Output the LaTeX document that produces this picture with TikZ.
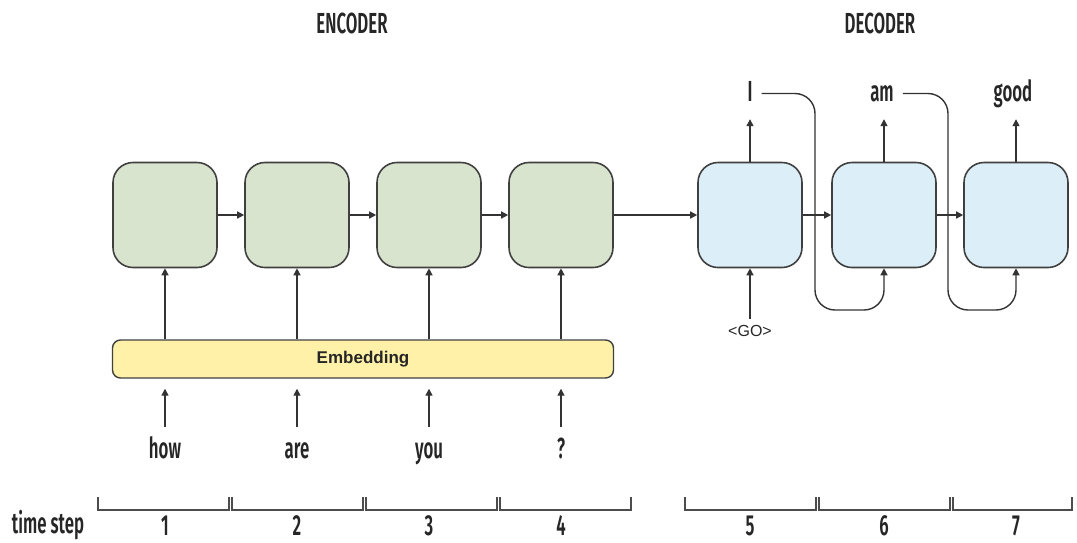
\documentclass[tikz,border=0pt]{standalone}
\usepackage{fontspec}
\setmainfont{Liberation Sans}
\newfontfamily\narrowfont[FakeStretch=0.58]{Fira Sans SemiBold}
\usetikzlibrary{arrows.meta}

\definecolor{encgreen}{HTML}{D9E4CE}
\definecolor{decblue}{HTML}{DCEEF7}
\definecolor{embyellow}{HTML}{FFF2A8}
\definecolor{edge}{HTML}{404040}

\tikzset{
  cell/.style={draw=edge, line width=1.6pt, rounded corners=20pt,
    minimum width=104pt, minimum height=105pt},
  enccell/.style={cell, fill=encgreen},
  deccell/.style={cell, fill=decblue},
  word/.style={font=\narrowfont\fontsize{29}{29}\selectfont, text=black!85,
    inner sep=0pt, text height=21pt, text depth=6pt},
  link/.style={-{Triangle[length=7pt,width=7pt]}, line width=1.4pt, draw=black!80},
  bracket/.style={line width=1.4pt, draw=black!70},
}

\begin{document}
\begin{tikzpicture}[x=1pt,y=-1pt]
  \useasboundingbox (0,0) rectangle (1077,542);
  % headings
  \node[word] (enc) at (352,26) {ENCODER};
  \node[word] (dec) at (880,26) {DECODER};
  % cells
  \foreach \i/\x in {1/165,2/297,3/429,4/561}
    \node[enccell] (e\i) at (\x,215) {};
  \foreach \i/\x in {1/750,2/884,3/1016}
    \node[deccell] (d\i) at (\x,215) {};
  \node[draw=edge, line width=1.4pt, fill=embyellow, rounded corners=8pt,
    minimum width=501pt, minimum height=38pt,
    font=\bfseries\fontsize{17}{17}\selectfont, text=black!85] (emb) at (363,359) {Embedding};
  % input words
  \foreach \i/\x/\w in {1/165/how,2/297/are,3/429/you,4/561/?}{
    \node[word, anchor=base] (w\i) at (\x,458) {\w};
    \draw[link, shorten <=10pt, shorten >=10pt] (w\i.north) -- (w\i.north |- emb.south);
    \draw[link] (emb.north -| e\i) -- (e\i.south);
  }
  % recurrent links
  \draw[link] (e1) -- (e2);
  \draw[link] (e2) -- (e3);
  \draw[link] (e3) -- (e4);
  \draw[link] (e4) -- (d1);
  \draw[link] (d1) -- (d2);
  \draw[link] (d2) -- (d3);
  % outputs
  \node[word, anchor=base] (o1) at (750,101) {I};
  \node[word, anchor=base] (o2) at (882,101) {am};
  \node[word, anchor=base] (o3) at (1013,101) {good};
  \foreach \i in {1,2,3}
    \draw[link, shorten >=12pt] (d\i.north) -- (d\i.north |- o\i.south);
  % fed back
  \coordinate (turn1) at (815,310);
  \coordinate (turn2) at (948,310);
  \draw[link, rounded corners=20pt] ([xshift=9pt]o1.east) -| (turn1) -- (turn1 -| d2) -- (d2.south);
  \draw[link, rounded corners=20pt] ([xshift=9pt]o2.east) -| (turn2) -- (turn2 -| d3) -- (d3.south);
  \node[font=\fontsize{16}{16}\selectfont, text=black!85] (go) at (750,331) {<GO>};
  \draw[link, shorten <=3pt] (go.north) -- (d1.south);
  % time steps
  \foreach \a/\b in {98/229,232/363,366/497,500/631,685/816,819/950,953/1072}
    \draw[bracket] (\a,497) -- (\a,510) -- (\b,510) -- (\b,497);
  \node[word, anchor=base, text depth=0pt] (ts) at (48,533) {time step};
  \foreach \n/\x in {1/165,2/297,3/429,4/561,5/750,6/884,7/1016}
    \node[word, anchor=base, text depth=0pt] (t\n) at (\x,535) {\n};
\end{tikzpicture}
\end{document}
